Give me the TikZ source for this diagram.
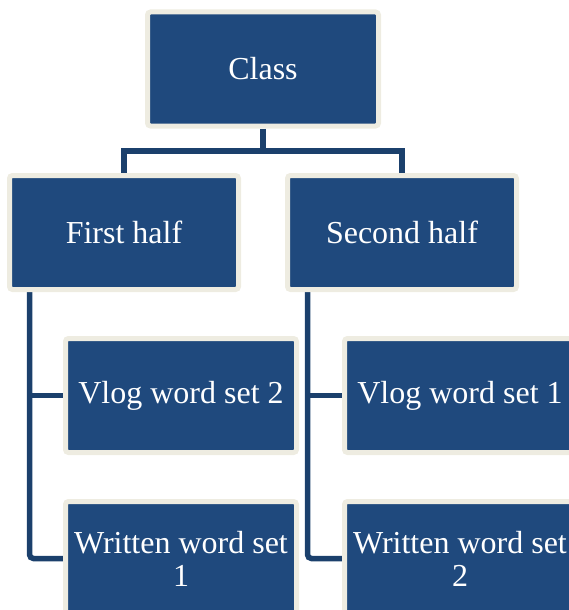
\documentclass[tikz,border=0pt]{standalone}
\usepackage{fontspec}
\setmainfont{Liberation Serif}
\usetikzlibrary{backgrounds,calc}
\definecolor{boxblue}{HTML}{1F497D}
\definecolor{boxrim}{HTML}{EEECE1}
\definecolor{linkblue}{HTML}{1B406C}
\tikzset{
  orgbox/.style={rectangle, draw=boxrim, line width=5pt, fill=boxblue, rounded corners=3pt,
    minimum width=231pt, minimum height=114pt, inner sep=0pt, text=white, align=center,
    font=\fontsize{32}{33}\selectfont},
  conn/.style={draw=linkblue, line width=5.5pt}
}
\begin{document}
\begin{tikzpicture}[x=1pt,y=-1pt]
\useasboundingbox (0,0) rectangle (568,610);
\node[orgbox] (class) at (263,69) {Class};
\node[orgbox, minimum width=229pt] (first) at (124,232.5) {First half};
\node[orgbox, minimum width=229pt] (second) at (402,232.5) {Second half};
\node[orgbox] (v2) at (181,395.5) {Vlog word set 2};
\node[orgbox] (w1) at (181,558.5) {Written word set\\1};
\node[orgbox] (v1) at (460,395.5) {Vlog word set 1};
\node[orgbox] (w2) at (460,558.5) {Written word set\\2};
\coordinate (bar) at (263,151);
\coordinate (fl) at ([xshift=22.5pt]first.south west);
\coordinate (sl) at ([xshift=22.5pt]second.south west);
\begin{pgfonlayer}{background}
\draw[conn] (class.south) -- (bar);
\draw[conn] (first.north) |- (bar) -| (second.north);
\draw[conn, rounded corners=4pt] (fl) |- (w1.west);
\draw[conn] (v2.west) -- (v2.west -| fl);
\draw[conn, rounded corners=4pt] (sl) |- (w2.west);
\draw[conn] (v1.west) -- (v1.west -| sl);
\end{pgfonlayer}
\end{tikzpicture}
\end{document}
